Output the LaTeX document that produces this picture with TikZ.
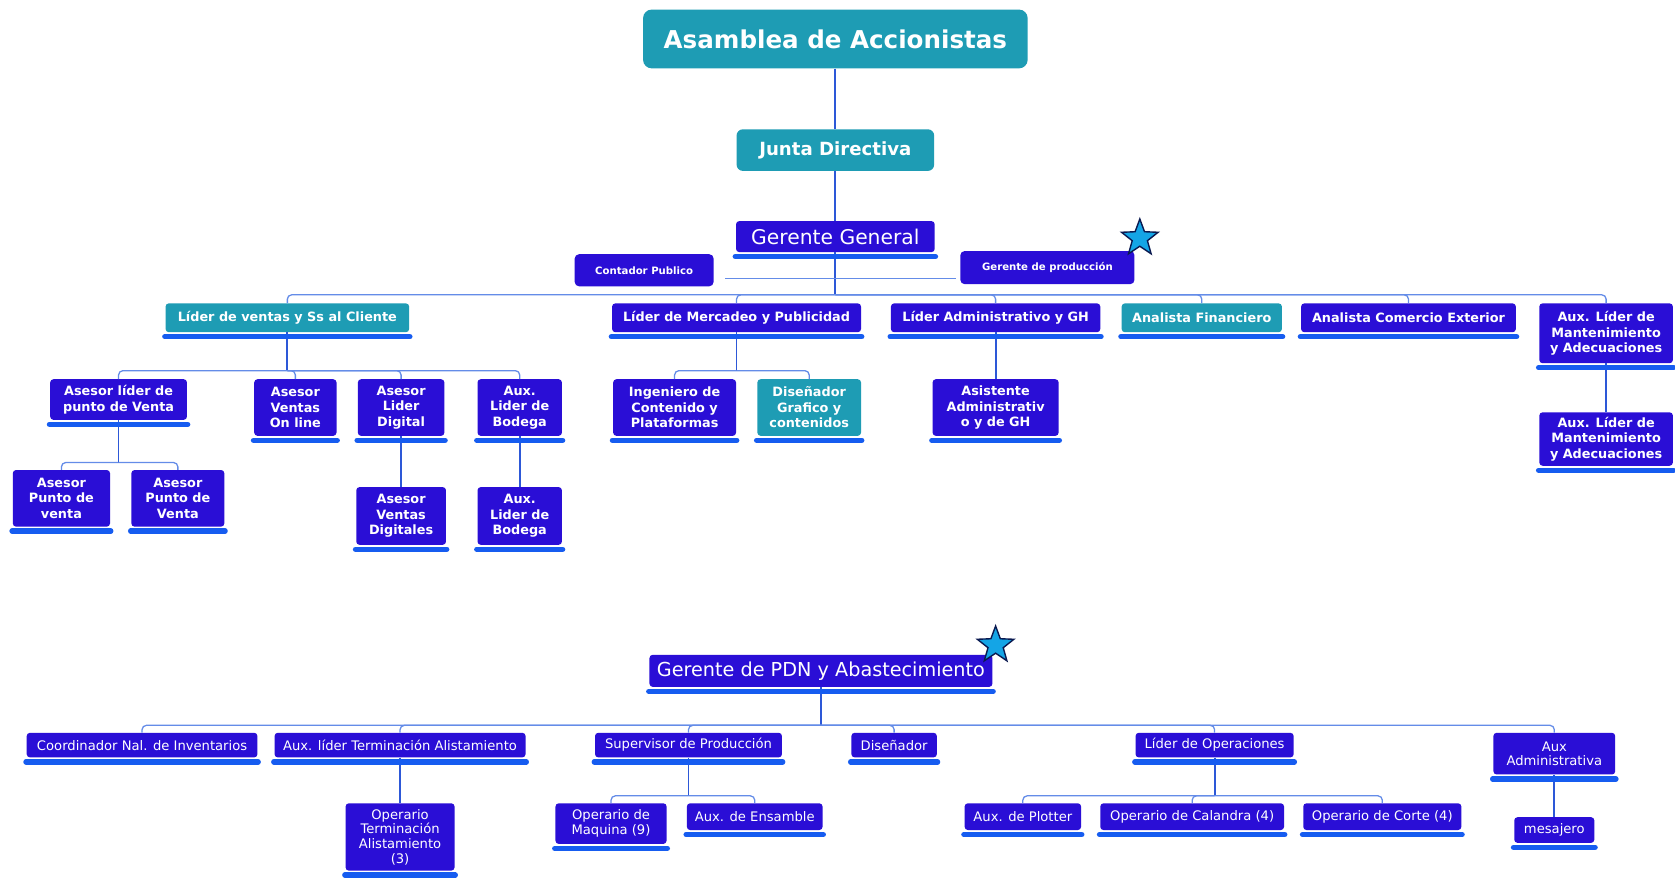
\documentclass[tikz,border=0pt]{standalone}
\usepackage{fontspec}
\setmainfont{DejaVu Sans}
\usepackage{tikz}
\usetikzlibrary{positioning,calc,shapes.geometric}
\definecolor{boxIndigo}{RGB}{42, 14, 214}
\definecolor{boxTeal}{RGB}{30, 156, 180}
\definecolor{barBlue}{RGB}{22, 92, 240}
\definecolor{linkBlue}{RGB}{45, 88, 215}
\definecolor{busBlue}{RGB}{100, 140, 232}
\definecolor{starFill}{RGB}{20, 165, 230}
\definecolor{starLine}{RGB}{10, 25, 80}

\tikzset{
  box/.style={fill=boxIndigo, text=white, rounded corners=3pt, inner sep=0pt, align=center,
    font=\fontsize{12}{14.5}\selectfont\bfseries},
  tealbox/.style={box, fill=boxTeal},
  lowbox/.style={box, font=\fontsize{12.3}{13.7}\selectfont},
  sz/.style 2 args={minimum width=#1, minimum height=#2},
  link/.style={draw=linkBlue, line width=1.7pt},
  busline/.style={draw=busBlue, line width=1.2pt, rounded corners=4pt},
  underbar/.style={draw=barBlue, line width=5pt, line cap=round},
  flagstar/.style={star, star points=5, star point ratio=2.4, fill=starFill, draw=starLine,
    line width=1.3pt, minimum size=36pt, inner sep=0pt}
}

\begin{document}
\begin{tikzpicture}[x=1pt, y=-1pt]
  \fill[white] (0,0) rectangle (1568,821);
  \useasboundingbox (0,0) rectangle (1568,821);

  % top of the chart
  \node[tealbox, rounded corners=8pt, sz={360pt}{55pt}, font=\fontsize{23}{27}\selectfont\bfseries] (asam) at (782,36.5) {Asamblea de Accionistas};
  \node[tealbox, rounded corners=6pt, sz={185pt}{39pt}, font=\fontsize{17}{20}\selectfont\bfseries] (junta) at (782,140.5) {Junta Directiva};
  \node[box, sz={186pt}{29pt}, font=\fontsize{19}{22}\selectfont] (gg) at (782,221.5) {Gerente General};
  \node[box, rounded corners=4pt, sz={130pt}{30pt}, font=\fontsize{9.5}{11}\selectfont\bfseries] (cp) at (603,253) {Contador Publico};
  \node[box, rounded corners=4pt, sz={163pt}{31pt}, font=\fontsize{9.5}{11}\selectfont\bfseries] (gp) at (980.5,250.5) {Gerente de producción};
  \node[flagstar] (st1) at (1067,223) {};

  % second level
  \node[tealbox, sz={228pt}{27pt}] (lv) at (269,297.5) {Líder de ventas y Ss al Cliente};
  \node[box, sz={233pt}{27pt}] (lm) at (689.5,297.5) {Líder de Mercadeo y Publicidad};
  \node[box, sz={196pt}{27pt}] (la) at (932,297.5) {Líder Administrativo y GH};
  \node[tealbox, sz={150pt}{27pt}] (af) at (1125,297.5) {Analista Financiero};
  \node[box, sz={201pt}{27pt}] (ac) at (1318.5,297.5) {Analista Comercio Exterior};
  \node[box, sz={125pt}{56pt}] (am) at (1503.5,312) {Aux. Líder de\\Mantenimiento\\y Adecuaciones};

  % third level
  \node[box, sz={128pt}{38pt}] (al) at (111,374) {Asesor líder de\\punto de Venta};
  \node[box, sz={77pt}{53pt}] (avo) at (276.5,381.5) {Asesor\\Ventas\\On line};
  \node[box, sz={81pt}{53pt}] (ald) at (375.5,381.5) {Asesor\\Lider\\Digital};
  \node[box, sz={79pt}{53pt}] (alb) at (486.5,381.5) {Aux.\\Lider de\\Bodega};
  \node[box, sz={115pt}{53pt}] (ing) at (631.5,381.5) {Ingeniero de\\Contenido y\\Plataformas};
  \node[tealbox, sz={97pt}{53pt}] (dis) at (757.5,381.5) {Diseñador\\Grafico y\\contenidos};
  \node[box, sz={118pt}{53pt}] (asi) at (932,381.5) {Asistente\\Administrativ\\o y de GH};
  \node[box, sz={125pt}{50pt}] (am2) at (1503.5,411) {Aux. Líder de\\Mantenimiento\\y Adecuaciones};

  % fourth level
  \node[box, sz={91pt}{53pt}] (apv1) at (57.5,466.5) {Asesor\\Punto de\\venta};
  \node[box, sz={87pt}{53pt}] (apv2) at (166.5,466.5) {Asesor\\Punto de\\Venta};
  \node[box, sz={84pt}{54pt}] (avd) at (375.5,483) {Asesor\\Ventas\\Digitales};
  \node[box, sz={79pt}{54pt}] (alb2) at (486.5,483) {Aux.\\Lider de\\Bodega};

  % production chart
  \node[box, sz={321pt}{30pt}, font=\fontsize{18}{21}\selectfont] (pdn) at (768.5,628) {Gerente de PDN y Abastecimiento};
  \node[flagstar] (st2) at (932,604) {};

  \node[lowbox, sz={216pt}{23pt}] (cni) at (133,697.5) {Coordinador Nal. de Inventarios};
  \node[lowbox, sz={235pt}{23pt}] (alt) at (374.5,697.5) {Aux. líder Terminación Alistamiento};
  \node[lowbox, sz={175pt}{23pt}] (sp) at (644.5,697.5) {Supervisor de Producción};
  \node[lowbox, sz={80pt}{23pt}] (dsn) at (837,697.5) {Diseñador};
  \node[lowbox, sz={148pt}{23pt}] (lo) at (1137,697.5) {Líder de Operaciones};
  \node[lowbox, sz={114pt}{39pt}] (aad) at (1455,705.5) {Aux\\Administrativa};

  \node[lowbox, sz={102pt}{63pt}] (ota) at (374.5,783.5) {Operario\\Terminación\\Alistamiento\\(3)};
  \node[lowbox, sz={104pt}{38pt}] (om) at (572,771) {Operario de\\Maquina (9)};
  \node[lowbox, sz={127pt}{25pt}] (ae) at (706.5,764.5) {Aux. de Ensamble};
  \node[lowbox, sz={109pt}{25pt}] (apl) at (957.5,764.5) {Aux. de Plotter};
  \node[lowbox, sz={172pt}{25pt}] (oc) at (1116,764.5) {Operario de Calandra (4)};
  \node[lowbox, sz={148pt}{25pt}] (oco) at (1294,764.5) {Operario de Corte (4)};
  \node[lowbox, sz={75pt}{24pt}] (mes) at (1455,777) {mesajero};

  % connectors
  \coordinate (topbus) at (782,276);
  \coordinate (staffL) at (679,261);
  \coordinate (staffR) at (895,261);
  \coordinate (lvbus) at (269,347);
  \coordinate (albus) at (111,433);
  \coordinate (lmbus) at (689.5,347);
  \coordinate (pdnbus) at (768.5,679);
  \coordinate (spbus) at (644.5,745);
  \coordinate (lobus) at (1137,745);

  \draw[link] (asam) -- (junta);
  \draw[link] (junta) -- (gg);
  \draw[link] (gg) -- (topbus);
  \draw[busline] (staffL) -- (staffR);
  \foreach \c in {lv,lm,la,af,ac,am}
    \draw[busline] (topbus) -| (\c.north);

  \draw[link] (lv) -- (lvbus);
  \foreach \c in {al,avo,ald,alb}
    \draw[busline] (lvbus) -| (\c.north);
  \draw[link] (al) -- (albus);
  \foreach \c in {apv1,apv2}
    \draw[busline] (albus) -| (\c.north);
  \draw[link] (ald) -- (avd);
  \draw[link] (alb) -- (alb2);
  \draw[link] (lm) -- (lmbus);
  \foreach \c in {ing,dis}
    \draw[busline] (lmbus) -| (\c.north);
  \draw[link] (la) -- (asi);
  \draw[link] (am) -- (am2);

  \draw[link] (pdn) -- (pdnbus);
  \foreach \c in {cni,alt,sp,dsn,lo,aad}
    \draw[busline] (pdnbus) -| (\c.north);
  \draw[link] (alt) -- (ota);
  \draw[link] (sp) -- (spbus);
  \foreach \c in {om,ae}
    \draw[busline] (spbus) -| (\c.north);
  \draw[link] (lo) -- (lobus);
  \foreach \c in {apl,oc,oco}
    \draw[busline] (lobus) -| (\c.north);
  \draw[link] (aad) -- (mes);

  % bars under the boxes
  \foreach \n in {gg,lv,lm,la,af,ac,am,al,avo,ald,alb,ing,dis,asi,am2,apv1,apv2,avd,alb2,
      pdn,cni,alt,sp,dsn,lo,aad,ota,om,ae,apl,oc,oco,mes}
    \draw[underbar] ([xshift=-0.5pt,yshift=-4pt]\n.south west) -- ([xshift=0.5pt,yshift=-4pt]\n.south east);
\end{tikzpicture}
\end{document}
